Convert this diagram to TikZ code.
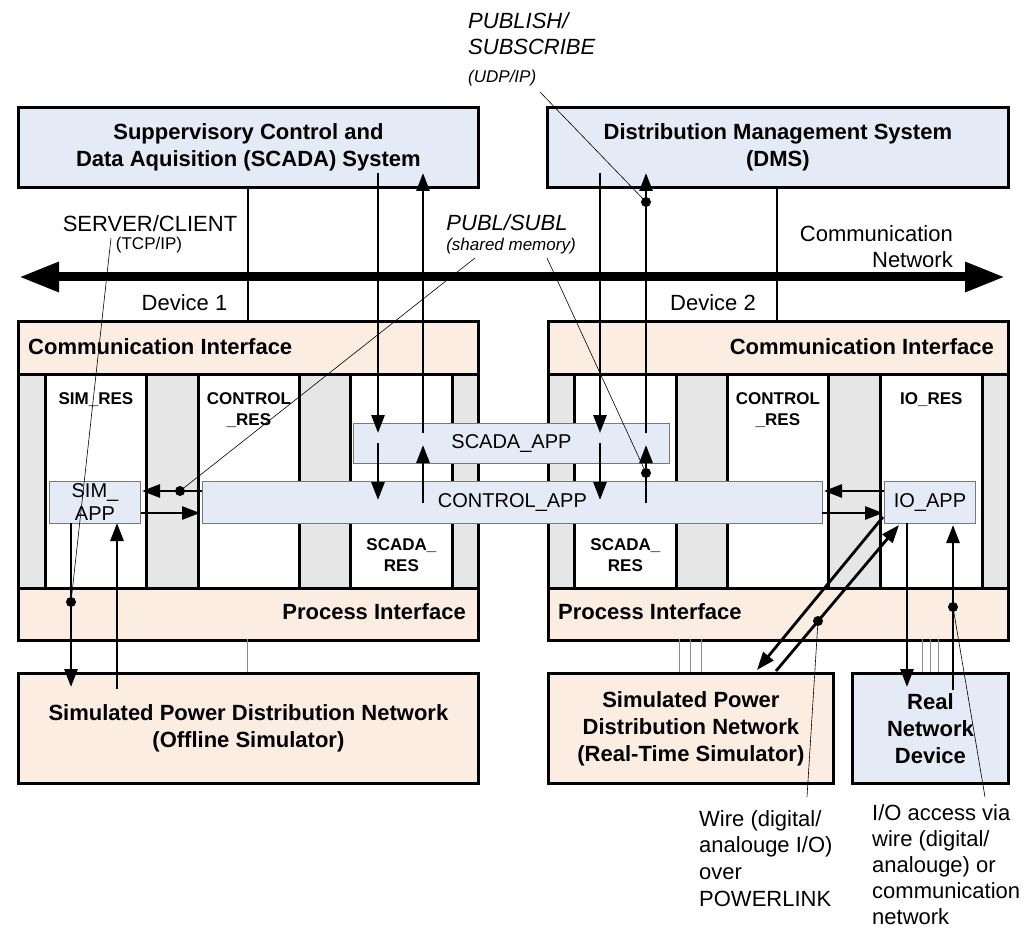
\documentclass[tikz,border=0pt]{standalone}
\usepackage{fontspec}
\setmainfont{Liberation Sans}
\usetikzlibrary{arrows.meta}

\definecolor{sysblue}{RGB}{228,235,246}
\definecolor{peach}{RGB}{252,237,227}
\definecolor{stripgray}{RGB}{230,230,230}
\definecolor{appedge}{RGB}{120,120,120}
\definecolor{feedgray}{RGB}{140,140,140}

\tikzset{
  thickline/.style={line width=2.8pt},
  box/.style={draw, line width=2.8pt, inner sep=0pt, align=center,
              font=\fontsize{22}{27}\selectfont\bfseries},
  sysbox/.style={box, fill=sysblue},
  simbox/.style={box, fill=peach},
  colbox/.style={draw, line width=2.8pt, fill=white, inner sep=0pt,
                 minimum height=214pt, anchor=north west},
  appbox/.style={draw=appedge, line width=0.9pt, fill=sysblue, inner sep=0pt,
                 align=center, anchor=north west, font=\fontsize{20}{23}\selectfont},
  hd/.style={font=\fontsize{22}{27}\selectfont\bfseries, inner sep=0pt},
  lbl/.style={font=\fontsize{22}{26.5}\selectfont, inner sep=0pt},
  small/.style={font=\fontsize{17}{20}\selectfont, inner sep=0pt},
  reslbl/.style={font=\fontsize{17}{21}\selectfont\bfseries, inner sep=0pt,
                 align=center, anchor=north},
  flow/.style={line width=2.8pt, -{Triangle[length=18pt,width=13pt]}},
  bus/.style={line width=9pt,
              {Triangle[length=40pt,width=28pt]}-{Triangle[length=40pt,width=28pt]}},
  leader/.style={line width=0.6pt},
  tap/.style={fill, circle, inner sep=0pt, minimum size=10pt},
  feed/.style={line width=0.9pt, draw=feedgray}
}

\begin{document}
\begin{tikzpicture}[x=1pt,y=-1pt]
\useasboundingbox (0,0) rectangle (1034,928);
\fill[white] (0,0) rectangle (1034,928);

% ---------- upper systems ----------
\node[sysbox, minimum width=460pt, minimum height=80pt, anchor=north west] (scada) at (17,106)
  {Suppervisory Control and\\Data Aquisition (SCADA) System};
\node[sysbox, minimum width=461pt, minimum height=80pt, anchor=north west] (dms) at (546,106)
  {Distribution Management System\\(DMS)};

% ---------- device 1 ----------
\node[box, fill=stripgray, minimum width=460pt, minimum height=319pt, anchor=north west] (dev1) at (17,320) {};
\node[colbox, minimum width=101pt] (simres)  at (44,373) {};
\node[colbox, minimum width=101pt] (ctrlres1) at (197,373) {};
\node[colbox, minimum width=102pt] (scadares1) at (349,373) {};
\node[box, fill=peach, minimum width=460pt, minimum height=53pt, anchor=north west] (comm1) at (17,320) {};
\node[box, fill=peach, minimum width=460pt, minimum height=52pt, anchor=north west] (proc1) at (17,587) {};
\node[hd, anchor=west] at (28,346.5) {Communication Interface};
\node[hd, anchor=east] at (466,612) {Process Interface};
\node[reslbl] at (simres.north |- 0,392) {SIM\_RES};
\node[reslbl] at (ctrlres1.north |- 0,392) {CONTROL\\\_RES};
\node[reslbl] at (scadares1.north |- 0,538) {SCADA\_\\RES};

% ---------- device 2 ----------
\node[box, fill=stripgray, minimum width=460pt, minimum height=319pt, anchor=north west] (dev2) at (547,320) {};
\node[colbox, minimum width=102pt] (scadares2) at (573,373) {};
\node[colbox, minimum width=101pt] (ctrlres2) at (726,373) {};
\node[colbox, minimum width=102pt] (iores) at (879,373) {};
\node[box, fill=peach, minimum width=460pt, minimum height=53pt, anchor=north west] (comm2) at (547,320) {};
\node[box, fill=peach, minimum width=460pt, minimum height=52pt, anchor=north west] (proc2) at (547,587) {};
\node[hd, anchor=east] at (994,346.5) {Communication Interface};
\node[hd, anchor=west] at (558,612) {Process Interface};
\node[reslbl] at (ctrlres2.north |- 0,392) {CONTROL\\\_RES};
\node[reslbl] at (iores.north |- 0,392) {IO\_RES};
\node[reslbl] at (scadares2.north |- 0,538) {SCADA\_\\RES};

% ---------- applications ----------
\node[appbox, minimum width=91pt, minimum height=42pt] (simapp) at (49,481) {SIM\_\\APP};
\node[appbox, minimum width=620pt, minimum height=42pt] (ctrlapp) at (202,481) {CONTROL\_APP};
\node[appbox, minimum width=316pt, minimum height=40pt] (scadaapp) at (353,423) {SCADA\_APP};
\node[appbox, minimum width=91pt, minimum height=42pt] (ioapp) at (884,481) {IO\_APP};

% ---------- lower systems ----------
\node[simbox, minimum width=460pt, minimum height=110pt, anchor=north west] (offline) at (17,672)
  {Simulated Power Distribution Network\\(Offline Simulator)};
\node[simbox, minimum width=285pt, minimum height=110pt, anchor=north west] (rtsim) at (547,672)
  {Simulated Power\\Distribution Network\\(Real-Time Simulator)};
\node[sysbox, minimum width=156pt, minimum height=110pt, anchor=north west] (realdev) at (851,672)
  {Real\\Network\\Device};

% ---------- communication network ----------
\coordinate (busL) at (19,277);
\coordinate (busR) at (1005,277);
\coordinate (scadaTap) at (248,186);
\coordinate (dmsTap) at (777,186);
\draw[thickline] (scadaTap) -- (scadaTap |- dev1.north);
\draw[thickline] (dmsTap) -- (dmsTap |- dev2.north);
\draw[bus] (busL) -- (busR);

% ---------- wiring to the simulators and the device ----------
\foreach \x in {247, 679, 690, 701, 922, 930, 938}
  \draw[feed] (\x,639) -- (\x,672);

% ---------- data flows ----------
% SCADA system <-> SCADA_APP <-> CONTROL_APP
\coordinate (scDnA) at (378,173);  \coordinate (scDnB) at (378,433);
\coordinate (scDnC) at (378,443);  \coordinate (scDnD) at (378,500);
\coordinate (scUpA) at (423,503);  \coordinate (scUpB) at (423,445);
\coordinate (scUpC) at (423,433);  \coordinate (scUpD) at (423,173);
\draw[flow] (scDnA) -- (scDnB);
\draw[flow] (scDnC) -- (scDnD);
\draw[flow] (scUpA) -- (scUpB);
\draw[flow] (scUpC) -- (scUpD);
% DMS <-> SCADA_APP <-> CONTROL_APP
\coordinate (dmDnA) at (600,173);  \coordinate (dmDnB) at (600,433);
\coordinate (dmDnC) at (600,443);  \coordinate (dmDnD) at (600,500);
\coordinate (dmUpA) at (646,503);  \coordinate (dmUpB) at (646,445);
\coordinate (dmUpC) at (646,433);  \coordinate (dmUpD) at (646,173);
\draw[flow] (dmDnA) -- (dmDnB);
\draw[flow] (dmDnC) -- (dmDnD);
\draw[flow] (dmUpA) -- (dmUpB);
\draw[flow] (dmUpC) -- (dmUpD);
% CONTROL_APP <-> SIM_APP / IO_APP
\coordinate (c2sA) at (202,491);  \coordinate (c2sB) at (142,491);
\coordinate (s2cA) at (141,513);  \coordinate (s2cB) at (200,513);
\coordinate (i2cA) at (884,491);  \coordinate (i2cB) at (824,491);
\coordinate (c2iA) at (822,513);  \coordinate (c2iB) at (883,513);
\draw[flow] (c2sA) -- (c2sB);
\draw[flow] (s2cA) -- (s2cB);
\draw[flow] (i2cA) -- (i2cB);
\draw[flow] (c2iA) -- (c2iB);
% SIM_APP <-> offline simulator
\coordinate (soA) at (71,523);   \coordinate (soB) at (71,687);
\coordinate (osA) at (117,689);  \coordinate (osB) at (117,523);
\draw[flow] (soA) -- (soB);
\draw[flow] (osA) -- (osB);
% IO_APP <-> real-time simulator
\coordinate (irA) at (883,517);  \coordinate (irB) at (757,670);
\coordinate (riA) at (776,671);  \coordinate (riB) at (899,525);
\draw[flow] (irA) -- (irB);
\draw[flow] (riA) -- (riB);
% IO_APP <-> real network device
\coordinate (idA) at (907,523);  \coordinate (idB) at (907,687);
\coordinate (diA) at (953,690);  \coordinate (diB) at (953,525);
\draw[flow] (idA) -- (idB);
\draw[flow] (diA) -- (diB);

% ---------- annotations ----------
\node[lbl, anchor=base] (srvlbl) at (150,232) {SERVER/CLIENT};
\node[small, anchor=base] (tcplbl) at (149,250) {(TCP/IP)};
\node[lbl, anchor=base] (dev1lbl) at (184.5,310) {Device 1};
\node[lbl, anchor=base] (dev2lbl) at (713,310) {Device 2};
\node[lbl, align=right, anchor=north east] (netlbl) at (953,225) {Communication\\Network};
\node[lbl, anchor=base] (publbl) at (507,231) {\itshape PUBL/SUBL};
\node[small, anchor=base] (shmlbl) at (511,251) {\itshape (shared memory)};
\node[lbl, align=left, anchor=north west] (pslbl) at (468,12) {\itshape PUBLISH/\\\itshape SUBSCRIBE};
\node[small, anchor=base west] (udplbl) at (468,83) {\itshape (UDP/IP)};
\node[lbl, align=left, anchor=north west, font=\fontsize{22}{26.7}\selectfont] (wirelbl) at (699,810)
  {Wire (digital/\\analouge I/O)\\over\\POWERLINK};
\node[lbl, align=left, anchor=north west, font=\fontsize{22}{26}\selectfont] (iolbl) at (872,804)
  {I/O access via\\wire (digital/\\analouge) or\\communication\\network};

\coordinate (srvEnd) at (111,238);
\coordinate (shmEndA) at (475,258);
\coordinate (shmEndB) at (547,258);
\coordinate (udpEnd) at (540,92);
\coordinate (wireEnd) at (807,797);
\coordinate (ioEnd) at (985,797);
\node[tap] (tapSim) at (71,602) {};
\node[tap] (tapCS) at (180,491) {};
\node[tap] (tapCD) at (646,473) {};
\node[tap] (tapDms) at (646,202) {};
\node[tap] (tapRt) at (818,621) {};
\node[tap] (tapIo) at (953,607) {};
\draw[leader] (srvEnd) -- (tapSim.center);
\draw[leader] (shmEndA) -- (tapCS.center);
\draw[leader] (shmEndB) -- (tapCD.center);
\draw[leader] (udpEnd) -- (tapDms.center);
\draw[leader] (wireEnd) -- (tapRt.center);
\draw[leader] (ioEnd) -- (tapIo.center);
\end{tikzpicture}
\end{document}
